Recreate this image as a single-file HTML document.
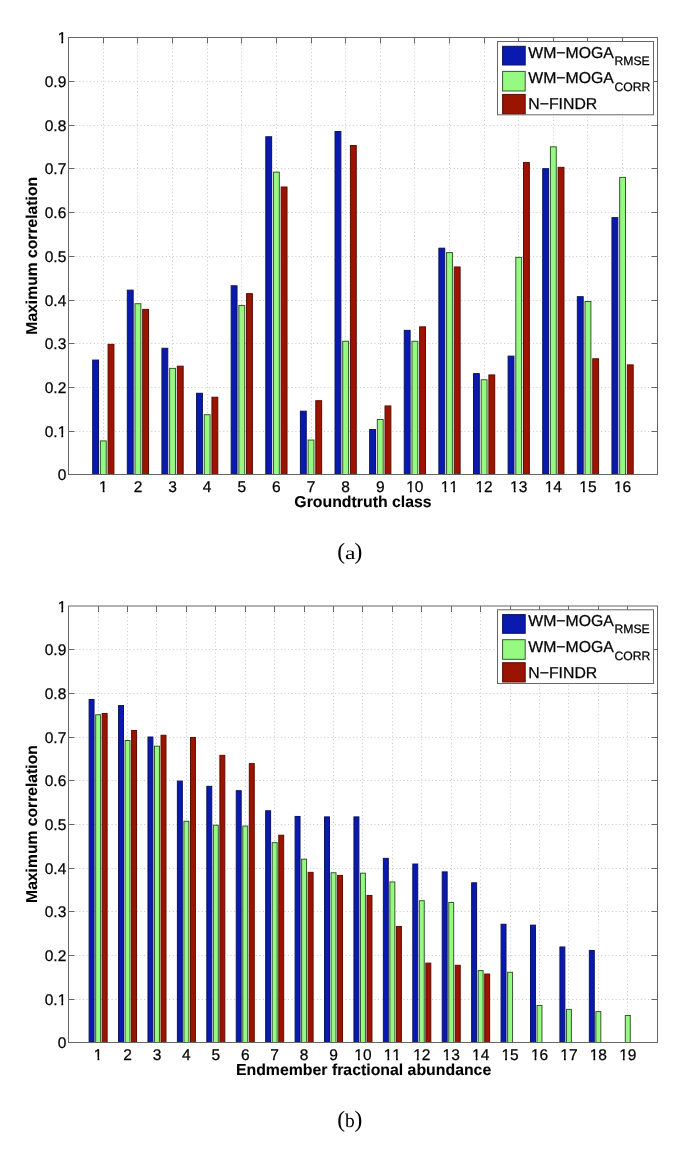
<!DOCTYPE html>
<html><head><meta charset="utf-8"><style>
html,body{margin:0;padding:0;background:#fff;width:685px;height:1149px;overflow:hidden}
svg{display:block}
text{font-family:"Liberation Sans", sans-serif;fill:#000;text-rendering:geometricPrecision;font-kerning:none;stroke:#000;stroke-width:0.25px}
.wrap{will-change:transform}
</style></head><body><div class="wrap">
<svg width="685" height="1149" viewBox="0 0 685 1149">
<rect width="685" height="1149" fill="#fff"/>
<path d="M103.50 37.50V474.50M137.50 37.50V474.50M172.50 37.50V474.50M207.50 37.50V474.50M241.50 37.50V474.50M276.50 37.50V474.50M311.50 37.50V474.50M345.50 37.50V474.50M380.50 37.50V474.50M414.50 37.50V474.50M449.50 37.50V474.50M484.50 37.50V474.50M518.50 37.50V474.50M553.50 37.50V474.50M587.50 37.50V474.50M622.50 37.50V474.50M68.50 431.50H657.50M68.50 387.50H657.50M68.50 343.50H657.50M68.50 300.50H657.50M68.50 256.50H657.50M68.50 212.50H657.50M68.50 168.50H657.50M68.50 125.50H657.50M68.50 81.50H657.50" stroke="#c8c8c8" stroke-width="1" stroke-dasharray="1 2.6" fill="none"/>
<path d="M103.50 474.50v-6M103.50 37.50v6M137.50 474.50v-6M137.50 37.50v6M172.50 474.50v-6M172.50 37.50v6M207.50 474.50v-6M207.50 37.50v6M241.50 474.50v-6M241.50 37.50v6M276.50 474.50v-6M276.50 37.50v6M311.50 474.50v-6M311.50 37.50v6M345.50 474.50v-6M345.50 37.50v6M380.50 474.50v-6M380.50 37.50v6M414.50 474.50v-6M414.50 37.50v6M449.50 474.50v-6M449.50 37.50v6M484.50 474.50v-6M484.50 37.50v6M518.50 474.50v-6M518.50 37.50v6M553.50 474.50v-6M553.50 37.50v6M587.50 474.50v-6M587.50 37.50v6M622.50 474.50v-6M622.50 37.50v6M68.50 431.50h6M657.50 431.50h-6M68.50 387.50h6M657.50 387.50h-6M68.50 343.50h6M657.50 343.50h-6M68.50 300.50h6M657.50 300.50h-6M68.50 256.50h6M657.50 256.50h-6M68.50 212.50h6M657.50 212.50h-6M68.50 168.50h6M657.50 168.50h-6M68.50 125.50h6M657.50 125.50h-6M68.50 81.50h6M657.50 81.50h-6" stroke="#666666" stroke-width="1" fill="none"/>
<rect x="92.70" y="360.07" width="5.85" height="114.43" fill="#0a1aae" stroke="#0c135e" stroke-width="1"/>
<rect x="100.39" y="440.91" width="5.85" height="33.59" fill="#96fa82" stroke="#345a2c" stroke-width="1"/>
<rect x="108.08" y="344.34" width="5.85" height="130.16" fill="#9a1400" stroke="#5e0c02" stroke-width="1"/>
<rect x="127.32" y="290.15" width="5.85" height="184.35" fill="#0a1aae" stroke="#0c135e" stroke-width="1"/>
<rect x="135.01" y="303.70" width="5.85" height="170.80" fill="#96fa82" stroke="#345a2c" stroke-width="1"/>
<rect x="142.70" y="309.38" width="5.85" height="165.12" fill="#9a1400" stroke="#5e0c02" stroke-width="1"/>
<rect x="161.93" y="348.27" width="5.85" height="126.23" fill="#0a1aae" stroke="#0c135e" stroke-width="1"/>
<rect x="169.63" y="368.37" width="5.85" height="106.13" fill="#96fa82" stroke="#345a2c" stroke-width="1"/>
<rect x="177.32" y="366.19" width="5.85" height="108.31" fill="#9a1400" stroke="#5e0c02" stroke-width="1"/>
<rect x="196.55" y="393.28" width="5.85" height="81.22" fill="#0a1aae" stroke="#0c135e" stroke-width="1"/>
<rect x="204.24" y="414.69" width="5.85" height="59.81" fill="#96fa82" stroke="#345a2c" stroke-width="1"/>
<rect x="211.94" y="397.21" width="5.85" height="77.29" fill="#9a1400" stroke="#5e0c02" stroke-width="1"/>
<rect x="231.17" y="285.78" width="5.85" height="188.72" fill="#0a1aae" stroke="#0c135e" stroke-width="1"/>
<rect x="238.86" y="305.44" width="5.85" height="169.06" fill="#96fa82" stroke="#345a2c" stroke-width="1"/>
<rect x="246.55" y="293.64" width="5.85" height="180.86" fill="#9a1400" stroke="#5e0c02" stroke-width="1"/>
<rect x="265.79" y="136.76" width="5.85" height="337.74" fill="#0a1aae" stroke="#0c135e" stroke-width="1"/>
<rect x="273.48" y="172.16" width="5.85" height="302.34" fill="#96fa82" stroke="#345a2c" stroke-width="1"/>
<rect x="281.17" y="187.02" width="5.85" height="287.48" fill="#9a1400" stroke="#5e0c02" stroke-width="1"/>
<rect x="300.40" y="411.20" width="5.85" height="63.30" fill="#0a1aae" stroke="#0c135e" stroke-width="1"/>
<rect x="308.10" y="440.04" width="5.85" height="34.46" fill="#96fa82" stroke="#345a2c" stroke-width="1"/>
<rect x="315.79" y="400.71" width="5.85" height="73.79" fill="#9a1400" stroke="#5e0c02" stroke-width="1"/>
<rect x="335.02" y="131.52" width="5.85" height="342.98" fill="#0a1aae" stroke="#0c135e" stroke-width="1"/>
<rect x="342.71" y="341.28" width="5.85" height="133.22" fill="#96fa82" stroke="#345a2c" stroke-width="1"/>
<rect x="350.41" y="145.50" width="5.85" height="329.00" fill="#9a1400" stroke="#5e0c02" stroke-width="1"/>
<rect x="369.64" y="429.55" width="5.85" height="44.95" fill="#0a1aae" stroke="#0c135e" stroke-width="1"/>
<rect x="377.33" y="419.50" width="5.85" height="55.00" fill="#96fa82" stroke="#345a2c" stroke-width="1"/>
<rect x="385.02" y="405.95" width="5.85" height="68.55" fill="#9a1400" stroke="#5e0c02" stroke-width="1"/>
<rect x="404.26" y="330.35" width="5.85" height="144.15" fill="#0a1aae" stroke="#0c135e" stroke-width="1"/>
<rect x="411.95" y="341.28" width="5.85" height="133.22" fill="#96fa82" stroke="#345a2c" stroke-width="1"/>
<rect x="419.64" y="326.86" width="5.85" height="147.64" fill="#9a1400" stroke="#5e0c02" stroke-width="1"/>
<rect x="438.87" y="248.20" width="5.85" height="226.30" fill="#0a1aae" stroke="#0c135e" stroke-width="1"/>
<rect x="446.57" y="252.57" width="5.85" height="221.93" fill="#96fa82" stroke="#345a2c" stroke-width="1"/>
<rect x="454.26" y="266.99" width="5.85" height="207.51" fill="#9a1400" stroke="#5e0c02" stroke-width="1"/>
<rect x="473.49" y="373.62" width="5.85" height="100.88" fill="#0a1aae" stroke="#0c135e" stroke-width="1"/>
<rect x="481.18" y="379.73" width="5.85" height="94.77" fill="#96fa82" stroke="#345a2c" stroke-width="1"/>
<rect x="488.88" y="374.93" width="5.85" height="99.57" fill="#9a1400" stroke="#5e0c02" stroke-width="1"/>
<rect x="508.11" y="356.14" width="5.85" height="118.36" fill="#0a1aae" stroke="#0c135e" stroke-width="1"/>
<rect x="515.80" y="257.37" width="5.85" height="217.13" fill="#96fa82" stroke="#345a2c" stroke-width="1"/>
<rect x="523.50" y="162.55" width="5.85" height="311.95" fill="#9a1400" stroke="#5e0c02" stroke-width="1"/>
<rect x="542.73" y="168.66" width="5.85" height="305.84" fill="#0a1aae" stroke="#0c135e" stroke-width="1"/>
<rect x="550.42" y="146.81" width="5.85" height="327.69" fill="#96fa82" stroke="#345a2c" stroke-width="1"/>
<rect x="558.11" y="167.35" width="5.85" height="307.15" fill="#9a1400" stroke="#5e0c02" stroke-width="1"/>
<rect x="577.34" y="296.70" width="5.85" height="177.80" fill="#0a1aae" stroke="#0c135e" stroke-width="1"/>
<rect x="585.04" y="301.51" width="5.85" height="172.99" fill="#96fa82" stroke="#345a2c" stroke-width="1"/>
<rect x="592.73" y="358.76" width="5.85" height="115.74" fill="#9a1400" stroke="#5e0c02" stroke-width="1"/>
<rect x="611.96" y="217.61" width="5.85" height="256.89" fill="#0a1aae" stroke="#0c135e" stroke-width="1"/>
<rect x="619.66" y="177.40" width="5.85" height="297.10" fill="#96fa82" stroke="#345a2c" stroke-width="1"/>
<rect x="627.35" y="364.88" width="5.85" height="109.62" fill="#9a1400" stroke="#5e0c02" stroke-width="1"/>
<rect x="68.50" y="37.50" width="589.00" height="437.00" fill="none" stroke="#666666" stroke-width="1"/>
<text x="66.30" y="480.00" text-anchor="end" font-size="15.5">0</text>
<text x="66.30" y="437.00" text-anchor="end" font-size="15.5">0.1</text>
<rect x="57.99" y="434.00" width="3.34" height="4.00" fill="#fff"/>
<rect x="63.20" y="434.00" width="3.22" height="4.00" fill="#fff"/>
<text x="66.30" y="393.00" text-anchor="end" font-size="15.5">0.2</text>
<text x="66.30" y="349.00" text-anchor="end" font-size="15.5">0.3</text>
<text x="66.30" y="306.00" text-anchor="end" font-size="15.5">0.4</text>
<text x="66.30" y="262.00" text-anchor="end" font-size="15.5">0.5</text>
<text x="66.30" y="218.00" text-anchor="end" font-size="15.5">0.6</text>
<text x="66.30" y="174.00" text-anchor="end" font-size="15.5">0.7</text>
<text x="66.30" y="131.00" text-anchor="end" font-size="15.5">0.8</text>
<text x="66.30" y="87.00" text-anchor="end" font-size="15.5">0.9</text>
<text x="66.30" y="43.00" text-anchor="end" font-size="15.5">1</text>
<rect x="57.99" y="40.00" width="3.34" height="4.00" fill="#fff"/>
<rect x="63.20" y="40.00" width="3.22" height="4.00" fill="#fff"/>
<text x="103.32" y="491.50" text-anchor="middle" font-size="15.5">1</text>
<rect x="99.32" y="489.00" width="3.34" height="4.00" fill="#fff"/>
<rect x="104.53" y="489.00" width="3.22" height="4.00" fill="#fff"/>
<text x="137.94" y="491.50" text-anchor="middle" font-size="15.5">2</text>
<text x="172.55" y="491.50" text-anchor="middle" font-size="15.5">3</text>
<text x="207.17" y="491.50" text-anchor="middle" font-size="15.5">4</text>
<text x="241.79" y="491.50" text-anchor="middle" font-size="15.5">5</text>
<text x="276.41" y="491.50" text-anchor="middle" font-size="15.5">6</text>
<text x="311.02" y="491.50" text-anchor="middle" font-size="15.5">7</text>
<text x="345.64" y="491.50" text-anchor="middle" font-size="15.5">8</text>
<text x="380.26" y="491.50" text-anchor="middle" font-size="15.5">9</text>
<text x="414.88" y="491.50" text-anchor="middle" font-size="15.5">10</text>
<rect x="406.56" y="489.00" width="3.34" height="4.00" fill="#fff"/>
<rect x="411.77" y="489.00" width="3.22" height="4.00" fill="#fff"/>
<text x="449.49" y="491.50" text-anchor="middle" font-size="15.5">11</text>
<rect x="441.18" y="489.00" width="3.34" height="4.00" fill="#fff"/>
<rect x="446.39" y="489.00" width="3.22" height="4.00" fill="#fff"/>
<rect x="449.80" y="489.00" width="3.34" height="4.00" fill="#fff"/>
<rect x="455.01" y="489.00" width="3.22" height="4.00" fill="#fff"/>
<text x="484.11" y="491.50" text-anchor="middle" font-size="15.5">12</text>
<rect x="475.80" y="489.00" width="3.34" height="4.00" fill="#fff"/>
<rect x="481.01" y="489.00" width="3.22" height="4.00" fill="#fff"/>
<text x="518.73" y="491.50" text-anchor="middle" font-size="15.5">13</text>
<rect x="510.42" y="489.00" width="3.34" height="4.00" fill="#fff"/>
<rect x="515.63" y="489.00" width="3.22" height="4.00" fill="#fff"/>
<text x="553.35" y="491.50" text-anchor="middle" font-size="15.5">14</text>
<rect x="545.03" y="489.00" width="3.34" height="4.00" fill="#fff"/>
<rect x="550.24" y="489.00" width="3.22" height="4.00" fill="#fff"/>
<text x="587.96" y="491.50" text-anchor="middle" font-size="15.5">15</text>
<rect x="579.65" y="489.00" width="3.34" height="4.00" fill="#fff"/>
<rect x="584.86" y="489.00" width="3.22" height="4.00" fill="#fff"/>
<text x="622.58" y="491.50" text-anchor="middle" font-size="15.5">16</text>
<rect x="614.27" y="489.00" width="3.34" height="4.00" fill="#fff"/>
<rect x="619.48" y="489.00" width="3.22" height="4.00" fill="#fff"/>
<text x="363" y="506.5" text-anchor="middle" font-size="15.85" font-weight="bold" style="stroke-width:0.08px">Groundtruth class</text>
<text transform="translate(36.9 255.80) rotate(-90)" text-anchor="middle" font-size="15.7" font-weight="bold" style="stroke-width:0.08px">Maximum correlation</text>
<rect x="497.5" y="41.5" width="156.0" height="73.3" fill="#fff" stroke="#666666" stroke-width="1"/>
<rect x="502.6" y="46.30" width="22.6" height="18.70" fill="#0a1aae" stroke="#0c135e" stroke-width="1"/>
<rect x="502.6" y="71.40" width="22.6" height="19.60" fill="#96fa82" stroke="#345a2c" stroke-width="1"/>
<rect x="502.6" y="94.40" width="22.6" height="19.30" fill="#9a1400" stroke="#5e0c02" stroke-width="1"/>
<text x="528.3" y="57.60" font-size="15.8">WM−MOGA<tspan font-size="12.2" dx="0.6" dy="7.4">RMSE</tspan></text>
<text x="528.3" y="83.40" font-size="15.8">WM−MOGA<tspan font-size="12.2" dx="0.5" dy="8">CORR</tspan></text>
<text x="528.3" y="109.40" font-size="15.8">N−FINDR</text>
<text x="337.2" y="558.6" style='font-family:"Liberation Serif", serif;stroke:none' font-size="23.5">(</text>
<text x="362.3" y="558.6" text-anchor="end" style='font-family:"Liberation Serif", serif;stroke:none' font-size="23.5">)</text>
<text transform="translate(350.2 558.6) scale(1.28 1)" x="0" y="0" text-anchor="middle" style='font-family:"Liberation Serif", serif;stroke:none' font-size="18.4">a</text>
<path d="M98.50 606.00V1042.50M127.50 606.00V1042.50M156.50 606.00V1042.50M186.50 606.00V1042.50M215.50 606.00V1042.50M245.50 606.00V1042.50M274.50 606.00V1042.50M304.50 606.00V1042.50M333.50 606.00V1042.50M362.50 606.00V1042.50M392.50 606.00V1042.50M421.50 606.00V1042.50M451.50 606.00V1042.50M480.50 606.00V1042.50M510.50 606.00V1042.50M539.50 606.00V1042.50M568.50 606.00V1042.50M598.50 606.00V1042.50M627.50 606.00V1042.50M68.50 999.50H657.50M68.50 955.50H657.50M68.50 911.50H657.50M68.50 868.50H657.50M68.50 824.50H657.50M68.50 780.50H657.50M68.50 737.50H657.50M68.50 693.50H657.50M68.50 649.50H657.50" stroke="#c8c8c8" stroke-width="1" stroke-dasharray="1 2.6" fill="none"/>
<path d="M98.50 1042.50v-6M98.50 606.00v6M127.50 1042.50v-6M127.50 606.00v6M156.50 1042.50v-6M156.50 606.00v6M186.50 1042.50v-6M186.50 606.00v6M215.50 1042.50v-6M215.50 606.00v6M245.50 1042.50v-6M245.50 606.00v6M274.50 1042.50v-6M274.50 606.00v6M304.50 1042.50v-6M304.50 606.00v6M333.50 1042.50v-6M333.50 606.00v6M362.50 1042.50v-6M362.50 606.00v6M392.50 1042.50v-6M392.50 606.00v6M421.50 1042.50v-6M421.50 606.00v6M451.50 1042.50v-6M451.50 606.00v6M480.50 1042.50v-6M480.50 606.00v6M510.50 1042.50v-6M510.50 606.00v6M539.50 1042.50v-6M539.50 606.00v6M568.50 1042.50v-6M568.50 606.00v6M598.50 1042.50v-6M598.50 606.00v6M627.50 1042.50v-6M627.50 606.00v6M68.50 999.50h6M657.50 999.50h-6M68.50 955.50h6M657.50 955.50h-6M68.50 911.50h6M657.50 911.50h-6M68.50 868.50h6M657.50 868.50h-6M68.50 824.50h6M657.50 824.50h-6M68.50 780.50h6M657.50 780.50h-6M68.50 737.50h6M657.50 737.50h-6M68.50 693.50h6M657.50 693.50h-6M68.50 649.50h6M657.50 649.50h-6" stroke="#666666" stroke-width="1" fill="none"/>
<rect x="89.12" y="699.47" width="4.93" height="343.03" fill="#0a1aae" stroke="#0c135e" stroke-width="1"/>
<rect x="95.66" y="714.75" width="4.93" height="327.75" fill="#96fa82" stroke="#345a2c" stroke-width="1"/>
<rect x="102.20" y="713.44" width="4.93" height="329.06" fill="#9a1400" stroke="#5e0c02" stroke-width="1"/>
<rect x="118.55" y="705.59" width="4.93" height="336.91" fill="#0a1aae" stroke="#0c135e" stroke-width="1"/>
<rect x="125.08" y="740.51" width="4.93" height="301.99" fill="#96fa82" stroke="#345a2c" stroke-width="1"/>
<rect x="131.62" y="730.47" width="4.93" height="312.03" fill="#9a1400" stroke="#5e0c02" stroke-width="1"/>
<rect x="147.97" y="737.01" width="4.93" height="305.49" fill="#0a1aae" stroke="#0c135e" stroke-width="1"/>
<rect x="154.51" y="746.18" width="4.93" height="296.32" fill="#96fa82" stroke="#345a2c" stroke-width="1"/>
<rect x="161.05" y="735.27" width="4.93" height="307.23" fill="#9a1400" stroke="#5e0c02" stroke-width="1"/>
<rect x="177.40" y="781.10" width="4.93" height="261.40" fill="#0a1aae" stroke="#0c135e" stroke-width="1"/>
<rect x="183.93" y="821.26" width="4.93" height="221.24" fill="#96fa82" stroke="#345a2c" stroke-width="1"/>
<rect x="190.47" y="737.45" width="4.93" height="305.05" fill="#9a1400" stroke="#5e0c02" stroke-width="1"/>
<rect x="206.82" y="786.34" width="4.93" height="256.16" fill="#0a1aae" stroke="#0c135e" stroke-width="1"/>
<rect x="213.36" y="825.19" width="4.93" height="217.31" fill="#96fa82" stroke="#345a2c" stroke-width="1"/>
<rect x="219.90" y="755.35" width="4.93" height="287.15" fill="#9a1400" stroke="#5e0c02" stroke-width="1"/>
<rect x="236.25" y="790.70" width="4.93" height="251.80" fill="#0a1aae" stroke="#0c135e" stroke-width="1"/>
<rect x="242.78" y="826.06" width="4.93" height="216.44" fill="#96fa82" stroke="#345a2c" stroke-width="1"/>
<rect x="249.32" y="763.64" width="4.93" height="278.86" fill="#9a1400" stroke="#5e0c02" stroke-width="1"/>
<rect x="265.67" y="810.78" width="4.93" height="231.72" fill="#0a1aae" stroke="#0c135e" stroke-width="1"/>
<rect x="272.21" y="842.65" width="4.93" height="199.85" fill="#96fa82" stroke="#345a2c" stroke-width="1"/>
<rect x="278.75" y="835.23" width="4.93" height="207.27" fill="#9a1400" stroke="#5e0c02" stroke-width="1"/>
<rect x="295.10" y="816.46" width="4.93" height="226.04" fill="#0a1aae" stroke="#0c135e" stroke-width="1"/>
<rect x="301.63" y="859.23" width="4.93" height="183.27" fill="#96fa82" stroke="#345a2c" stroke-width="1"/>
<rect x="308.17" y="872.33" width="4.93" height="170.17" fill="#9a1400" stroke="#5e0c02" stroke-width="1"/>
<rect x="324.52" y="816.89" width="4.93" height="225.61" fill="#0a1aae" stroke="#0c135e" stroke-width="1"/>
<rect x="331.06" y="872.76" width="4.93" height="169.74" fill="#96fa82" stroke="#345a2c" stroke-width="1"/>
<rect x="337.60" y="875.38" width="4.93" height="167.12" fill="#9a1400" stroke="#5e0c02" stroke-width="1"/>
<rect x="353.95" y="816.89" width="4.93" height="225.61" fill="#0a1aae" stroke="#0c135e" stroke-width="1"/>
<rect x="360.48" y="873.20" width="4.93" height="169.30" fill="#96fa82" stroke="#345a2c" stroke-width="1"/>
<rect x="367.02" y="895.46" width="4.93" height="147.04" fill="#9a1400" stroke="#5e0c02" stroke-width="1"/>
<rect x="383.37" y="858.36" width="4.93" height="184.14" fill="#0a1aae" stroke="#0c135e" stroke-width="1"/>
<rect x="389.91" y="881.93" width="4.93" height="160.57" fill="#96fa82" stroke="#345a2c" stroke-width="1"/>
<rect x="396.45" y="926.45" width="4.93" height="116.05" fill="#9a1400" stroke="#5e0c02" stroke-width="1"/>
<rect x="412.80" y="864.03" width="4.93" height="178.47" fill="#0a1aae" stroke="#0c135e" stroke-width="1"/>
<rect x="419.33" y="900.70" width="4.93" height="141.80" fill="#96fa82" stroke="#345a2c" stroke-width="1"/>
<rect x="425.87" y="963.12" width="4.93" height="79.38" fill="#9a1400" stroke="#5e0c02" stroke-width="1"/>
<rect x="442.22" y="871.89" width="4.93" height="170.61" fill="#0a1aae" stroke="#0c135e" stroke-width="1"/>
<rect x="448.76" y="902.45" width="4.93" height="140.05" fill="#96fa82" stroke="#345a2c" stroke-width="1"/>
<rect x="455.30" y="965.30" width="4.93" height="77.20" fill="#9a1400" stroke="#5e0c02" stroke-width="1"/>
<rect x="471.65" y="882.80" width="4.93" height="159.70" fill="#0a1aae" stroke="#0c135e" stroke-width="1"/>
<rect x="478.18" y="970.54" width="4.93" height="71.96" fill="#96fa82" stroke="#345a2c" stroke-width="1"/>
<rect x="484.72" y="974.03" width="4.93" height="68.47" fill="#9a1400" stroke="#5e0c02" stroke-width="1"/>
<rect x="501.07" y="924.27" width="4.93" height="118.23" fill="#0a1aae" stroke="#0c135e" stroke-width="1"/>
<rect x="507.61" y="972.29" width="4.93" height="70.21" fill="#96fa82" stroke="#345a2c" stroke-width="1"/>
<rect x="530.50" y="925.14" width="4.93" height="117.36" fill="#0a1aae" stroke="#0c135e" stroke-width="1"/>
<rect x="537.03" y="1005.46" width="4.93" height="37.04" fill="#96fa82" stroke="#345a2c" stroke-width="1"/>
<rect x="559.92" y="946.97" width="4.93" height="95.53" fill="#0a1aae" stroke="#0c135e" stroke-width="1"/>
<rect x="566.46" y="1009.39" width="4.93" height="33.11" fill="#96fa82" stroke="#345a2c" stroke-width="1"/>
<rect x="589.35" y="950.46" width="4.93" height="92.04" fill="#0a1aae" stroke="#0c135e" stroke-width="1"/>
<rect x="595.88" y="1011.57" width="4.93" height="30.93" fill="#96fa82" stroke="#345a2c" stroke-width="1"/>
<rect x="625.31" y="1015.50" width="4.93" height="27.00" fill="#96fa82" stroke="#345a2c" stroke-width="1"/>
<rect x="68.50" y="606.00" width="589.00" height="436.50" fill="none" stroke="#666666" stroke-width="1"/>
<text x="66.30" y="1048.00" text-anchor="end" font-size="15.5">0</text>
<text x="66.30" y="1005.00" text-anchor="end" font-size="15.5">0.1</text>
<rect x="57.99" y="1002.00" width="3.34" height="4.00" fill="#fff"/>
<rect x="63.20" y="1002.00" width="3.22" height="4.00" fill="#fff"/>
<text x="66.30" y="961.00" text-anchor="end" font-size="15.5">0.2</text>
<text x="66.30" y="917.00" text-anchor="end" font-size="15.5">0.3</text>
<text x="66.30" y="874.00" text-anchor="end" font-size="15.5">0.4</text>
<text x="66.30" y="830.00" text-anchor="end" font-size="15.5">0.5</text>
<text x="66.30" y="786.00" text-anchor="end" font-size="15.5">0.6</text>
<text x="66.30" y="743.00" text-anchor="end" font-size="15.5">0.7</text>
<text x="66.30" y="699.00" text-anchor="end" font-size="15.5">0.8</text>
<text x="66.30" y="655.00" text-anchor="end" font-size="15.5">0.9</text>
<text x="66.30" y="612.00" text-anchor="end" font-size="15.5">1</text>
<rect x="57.99" y="609.00" width="3.34" height="4.00" fill="#fff"/>
<rect x="63.20" y="609.00" width="3.22" height="4.00" fill="#fff"/>
<text x="98.12" y="1059.60" text-anchor="middle" font-size="15.5">1</text>
<rect x="94.12" y="1057.00" width="3.34" height="4.00" fill="#fff"/>
<rect x="99.33" y="1057.00" width="3.22" height="4.00" fill="#fff"/>
<text x="127.55" y="1059.60" text-anchor="middle" font-size="15.5">2</text>
<text x="156.98" y="1059.60" text-anchor="middle" font-size="15.5">3</text>
<text x="186.40" y="1059.60" text-anchor="middle" font-size="15.5">4</text>
<text x="215.82" y="1059.60" text-anchor="middle" font-size="15.5">5</text>
<text x="245.25" y="1059.60" text-anchor="middle" font-size="15.5">6</text>
<text x="274.68" y="1059.60" text-anchor="middle" font-size="15.5">7</text>
<text x="304.10" y="1059.60" text-anchor="middle" font-size="15.5">8</text>
<text x="333.52" y="1059.60" text-anchor="middle" font-size="15.5">9</text>
<text x="362.95" y="1059.60" text-anchor="middle" font-size="15.5">10</text>
<rect x="354.64" y="1057.00" width="3.34" height="4.00" fill="#fff"/>
<rect x="359.85" y="1057.00" width="3.22" height="4.00" fill="#fff"/>
<text x="392.38" y="1059.60" text-anchor="middle" font-size="15.5">11</text>
<rect x="384.06" y="1057.00" width="3.34" height="4.00" fill="#fff"/>
<rect x="389.27" y="1057.00" width="3.22" height="4.00" fill="#fff"/>
<rect x="392.68" y="1057.00" width="3.34" height="4.00" fill="#fff"/>
<rect x="397.89" y="1057.00" width="3.22" height="4.00" fill="#fff"/>
<text x="421.80" y="1059.60" text-anchor="middle" font-size="15.5">12</text>
<rect x="413.49" y="1057.00" width="3.34" height="4.00" fill="#fff"/>
<rect x="418.70" y="1057.00" width="3.22" height="4.00" fill="#fff"/>
<text x="451.23" y="1059.60" text-anchor="middle" font-size="15.5">13</text>
<rect x="442.91" y="1057.00" width="3.34" height="4.00" fill="#fff"/>
<rect x="448.12" y="1057.00" width="3.22" height="4.00" fill="#fff"/>
<text x="480.65" y="1059.60" text-anchor="middle" font-size="15.5">14</text>
<rect x="472.34" y="1057.00" width="3.34" height="4.00" fill="#fff"/>
<rect x="477.55" y="1057.00" width="3.22" height="4.00" fill="#fff"/>
<text x="510.07" y="1059.60" text-anchor="middle" font-size="15.5">15</text>
<rect x="501.76" y="1057.00" width="3.34" height="4.00" fill="#fff"/>
<rect x="506.97" y="1057.00" width="3.22" height="4.00" fill="#fff"/>
<text x="539.50" y="1059.60" text-anchor="middle" font-size="15.5">16</text>
<rect x="531.19" y="1057.00" width="3.34" height="4.00" fill="#fff"/>
<rect x="536.40" y="1057.00" width="3.22" height="4.00" fill="#fff"/>
<text x="568.93" y="1059.60" text-anchor="middle" font-size="15.5">17</text>
<rect x="560.61" y="1057.00" width="3.34" height="4.00" fill="#fff"/>
<rect x="565.82" y="1057.00" width="3.22" height="4.00" fill="#fff"/>
<text x="598.35" y="1059.60" text-anchor="middle" font-size="15.5">18</text>
<rect x="590.04" y="1057.00" width="3.34" height="4.00" fill="#fff"/>
<rect x="595.25" y="1057.00" width="3.22" height="4.00" fill="#fff"/>
<text x="627.78" y="1059.60" text-anchor="middle" font-size="15.5">19</text>
<rect x="619.46" y="1057.00" width="3.34" height="4.00" fill="#fff"/>
<rect x="624.67" y="1057.00" width="3.22" height="4.00" fill="#fff"/>
<text x="363.6" y="1074.6" text-anchor="middle" font-size="15.85" font-weight="bold" style="stroke-width:0.08px">Endmember fractional abundance</text>
<text transform="translate(36.9 824.05) rotate(-90)" text-anchor="middle" font-size="15.7" font-weight="bold" style="stroke-width:0.08px">Maximum correlation</text>
<rect x="497.5" y="609.8" width="156.0" height="73.70000000000005" fill="#fff" stroke="#666666" stroke-width="1"/>
<rect x="502.6" y="614.60" width="22.6" height="18.70" fill="#0a1aae" stroke="#0c135e" stroke-width="1"/>
<rect x="502.6" y="639.70" width="22.6" height="19.60" fill="#96fa82" stroke="#345a2c" stroke-width="1"/>
<rect x="502.6" y="662.70" width="22.6" height="19.30" fill="#9a1400" stroke="#5e0c02" stroke-width="1"/>
<text x="528.3" y="625.90" font-size="15.8">WM−MOGA<tspan font-size="12.2" dx="0.6" dy="7.4">RMSE</tspan></text>
<text x="528.3" y="651.70" font-size="15.8">WM−MOGA<tspan font-size="12.2" dx="0.5" dy="8">CORR</tspan></text>
<text x="528.3" y="677.70" font-size="15.8">N−FINDR</text>
<text x="337.2" y="1126.5" style='font-family:"Liberation Serif", serif;stroke:none' font-size="23.5">(</text>
<text x="362.3" y="1126.5" text-anchor="end" style='font-family:"Liberation Serif", serif;stroke:none' font-size="23.5">)</text>
<text x="349.9" y="1126.5" text-anchor="middle" style='font-family:"Liberation Serif", serif;stroke:none' font-size="19.5">b</text>
</svg></div>
</body></html>
